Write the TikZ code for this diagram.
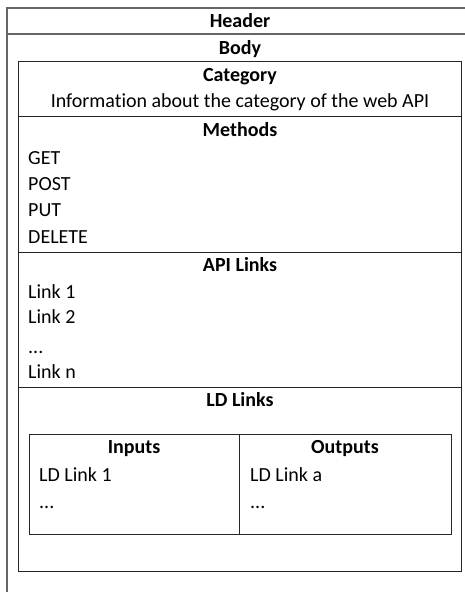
\documentclass[tikz,border=0pt]{standalone}
\usepackage{fontspec}
\setmainfont{Carlito}[Ligatures=NoCommon]
\begin{document}
\begin{tikzpicture}[x=1pt,y=-1pt,
  frame/.style={draw=black!60, line width=1.3pt},
  box/.style={draw=black!85, line width=1pt},
  ttl/.style={font=\fontsize{20}{24}\selectfont\bfseries, anchor=mid, inner sep=0pt},
  txt/.style={font=\fontsize{20}{24}\selectfont, anchor=mid west, inner sep=0pt},
  ctxt/.style={font=\fontsize{20}{24}\selectfont, anchor=mid, inner sep=0pt}]
\useasboundingbox (0,0) rectangle (465,596);
% outer frame
\draw[frame] (465,8) -- (7,8) -- (7,592);
\draw[frame] (7,34) -- (465,34);
% body box
\draw[box] (18,62) rectangle (461,571);
\draw[box] (18,117) -- (461,117);
\draw[box] (18,252) -- (461,252);
\draw[box] (18,387) -- (461,387);
% LD box
\draw[box] (29,434) rectangle (451,534);
\draw[box] (239,434) -- (239,534);
% texts
\node[ttl] (header) at (240,25) {Header};
\node[ttl] (body) at (240,52) {Body};
\node[ttl] (cat) at (240,79) {Category};
\node[ctxt] (info) at (240,105) {Information about the category of the web API};
\node[ttl] (meth) at (240,134) {Methods};
\node[txt] (get) at (28,162) {GET};
\node[txt] (post) at (28,188) {POST};
\node[txt] (put) at (28,214) {PUT};
\node[txt] (del) at (28,241) {DELETE};
\node[ttl] (api) at (240,269) {API Links};
\node[txt] (l1) at (28,296) {Link 1};
\node[txt] (l2) at (28,321) {Link 2};
\node[txt, anchor=base west] (ldots) at (28,353) {...};
\node[txt] (ln) at (28,376) {Link n};
\node[ttl] (ld) at (240,404) {LD Links};
\node[ttl] (in) at (134,451) {Inputs};
\node[ttl] (out) at (345,451) {Outputs};
\node[txt] (ld1) at (39,479) {LD Link 1};
\node[txt, anchor=base west] (ind) at (39,508) {...};
\node[txt] (lda) at (250,479) {LD Link a};
\node[txt, anchor=base west] (outd) at (250,508) {...};
\end{tikzpicture}
\end{document}
